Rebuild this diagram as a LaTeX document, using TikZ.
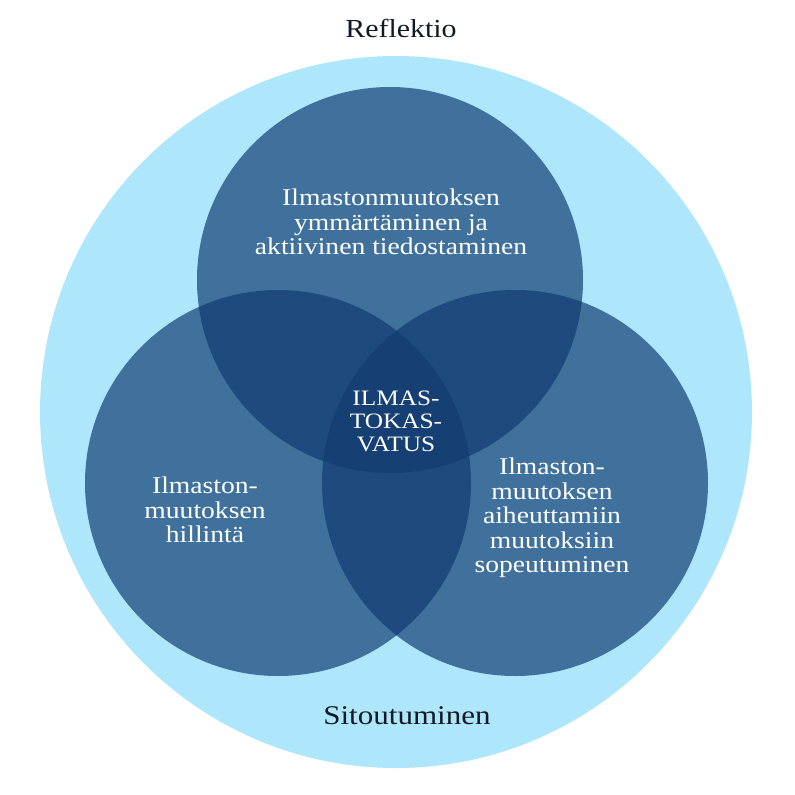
\documentclass[tikz,border=0pt]{standalone}
\usepackage{fontspec}
\setmainfont{Liberation Serif}[FakeStretch=1.15]
\definecolor{outerblue}{HTML}{AEE7FB}
\definecolor{midblue}{HTML}{40719D}
\definecolor{pairblue}{HTML}{1F4A7E}
\definecolor{coreblue}{HTML}{163F73}
\definecolor{labeldark}{HTML}{111A26}
\begin{document}
\begin{tikzpicture}[x=1bp,y=-1bp,
  bodytext/.style={text=white,align=center,inner sep=0pt,font=\fontsize{24bp}{24.5bp}\selectfont},
  outertext/.style={text=labeldark,inner sep=0pt,font=\fontsize{26bp}{28bp}\selectfont}]
\useasboundingbox (0,0) rectangle (795,795);
% outer circle
\fill[outerblue] (396,412) circle (356);
% three circles
\fill[midblue] (390,280) circle (193);
\fill[midblue] (278,483) circle (193);
\fill[midblue] (515,483) circle (193);
% pairwise overlaps
\begin{scope}
  \clip (390,280) circle (193);
  \fill[pairblue] (278,483) circle (193);
  \fill[pairblue] (515,483) circle (193);
\end{scope}
\begin{scope}
  \clip (278,483) circle (193);
  \fill[pairblue] (515,483) circle (193);
\end{scope}
% triple overlap
\begin{scope}
  \clip (390,280) circle (193);
  \clip (278,483) circle (193);
  \fill[coreblue] (515,483) circle (193);
\end{scope}
% labels
\node[outertext] (refl) at (401,28) {Reflektio};
\node[outertext,font=\fontsize{27bp}{29bp}\selectfont] (sitou) at (407,716) {Sitoutuminen};
\node[bodytext] (top) at (391,222) {Ilmastonmuutoksen\\ymmärtäminen ja\\aktiivinen tiedostaminen};
\node[bodytext] (left) at (205,510) {Ilmaston-\\muutoksen\\hillintä};
\node[bodytext] (right) at (552,518) {Ilmaston-\\muutoksen\\aiheuttamiin\\muutoksiin\\sopeutuminen};
\node[bodytext,font=\fontsize{22bp}{23bp}\selectfont] (core) at (396,421) {ILMAS-\\TOKAS-\\VATUS};
\end{tikzpicture}
\end{document}
